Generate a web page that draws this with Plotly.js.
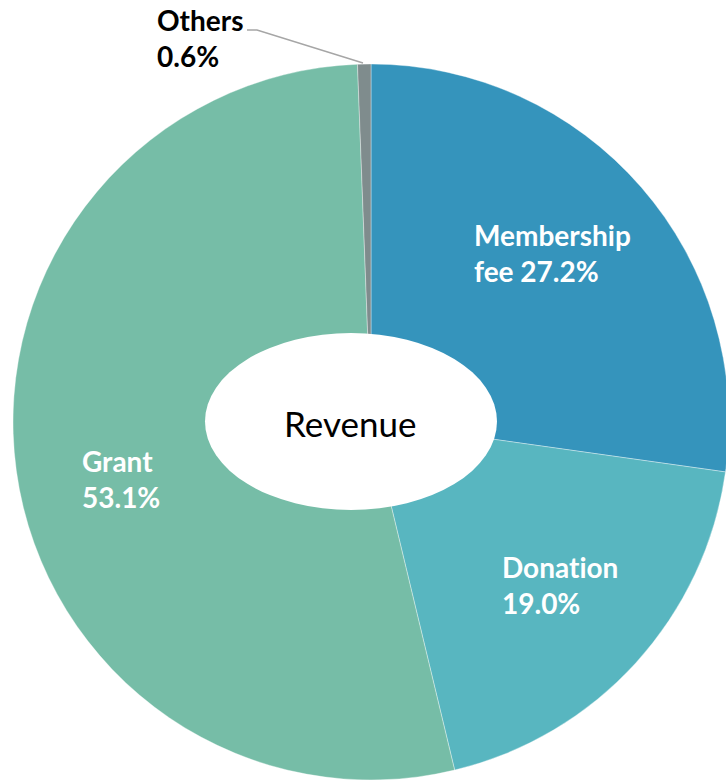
<!DOCTYPE html>
<html>
<head>
<meta charset="utf-8">
<script src="https://cdn.plot.ly/plotly-3.0.1.min.js"></script>
<style>
html,body{margin:0;padding:0;overflow:hidden;background:#fff;}
#chart{width:742px;height:781px;}
svg text{font-variant-ligatures:none;font-feature-settings:"liga" 0;}
</style>
</head>
<body>
<div id="chart"></div>
<script>
const labels = ["Membership fee", "Donation", "Grant", "Others"];
const values = [27.2, 19.0, 53.1, 0.6];
const colors = ["#3594BC", "#58B6C0", "#76BDA7", "#7F8C8D"];
const centerTitle = "Revenue";

const W = 742, H = 781;
const px = x => x / W;
const py = y => 1 - y / H;

function labelText(i) {
  const pct = values[i].toFixed(1) + "%";
  const name = labels[i];
  const sp = name.indexOf(" ");
  if (sp >= 0) return name.slice(0, sp) + "<br>" + name.slice(sp + 1) + " " + pct;
  return name + "<br>" + pct;
}

// label anchor positions (pixels) and colours
const labelPos = [
  {x: 472, y: 253, color: "#ffffff"},
  {x: 500, y: 585, color: "#ffffff"},
  {x: 80,  y: 479, color: "#ffffff"},
  {x: 155, y: 38,  color: "#000000"}
];

const annotations = labels.map((l, i) => ({
  xref: "paper", yref: "paper",
  x: px(labelPos[i].x), y: py(labelPos[i].y),
  xanchor: "left", yanchor: "middle", align: "left",
  showarrow: false,
  text: "<b>" + labelText(i) + "</b>",
  font: {family: "Lato, 'Open Sans', sans-serif", size: 28, color: labelPos[i].color}
}));
annotations.push({
  xref: "paper", yref: "paper",
  x: px(350), y: py(423), xanchor: "center", yanchor: "middle",
  showarrow: false, text: centerTitle,
  font: {family: "Lato, 'Open Sans', sans-serif", size: 35, color: "#000000"}
});

const data = [{
  type: "pie",
  labels: labels,
  values: values,
  sort: false,
  direction: "clockwise",
  rotation: 0,
  textinfo: "none",
  hoverinfo: "label+percent",
  marker: {colors: colors, line: {color: "rgba(255,255,255,0.6)", width: 0.6}},
  domain: {x: [px(13), px(729)], y: [py(780), py(64)]},
  showlegend: false
}];

const layout = {
  width: W, height: H,
  margin: {l: 0, r: 0, t: 0, b: 0, pad: 0},
  paper_bgcolor: "#ffffff",
  showlegend: false,
  annotations: annotations,
  shapes: [
    {type: "circle", xref: "paper", yref: "paper",
     x0: px(205), x1: px(497), y0: py(510), y1: py(333),
     fillcolor: "#ffffff", line: {width: 0}, layer: "above"},
    {type: "path", xref: "paper", yref: "paper",
     path: `M ${px(247)},${py(30)} L ${px(257)},${py(30)} L ${px(363)},${py(63)}`,
     line: {color: "#A6A6A6", width: 1.5}, layer: "above"}
  ]
};

Plotly.newPlot("chart", data, layout, {displayModeBar: false, staticPlot: true});
</script>
</body>
</html>
